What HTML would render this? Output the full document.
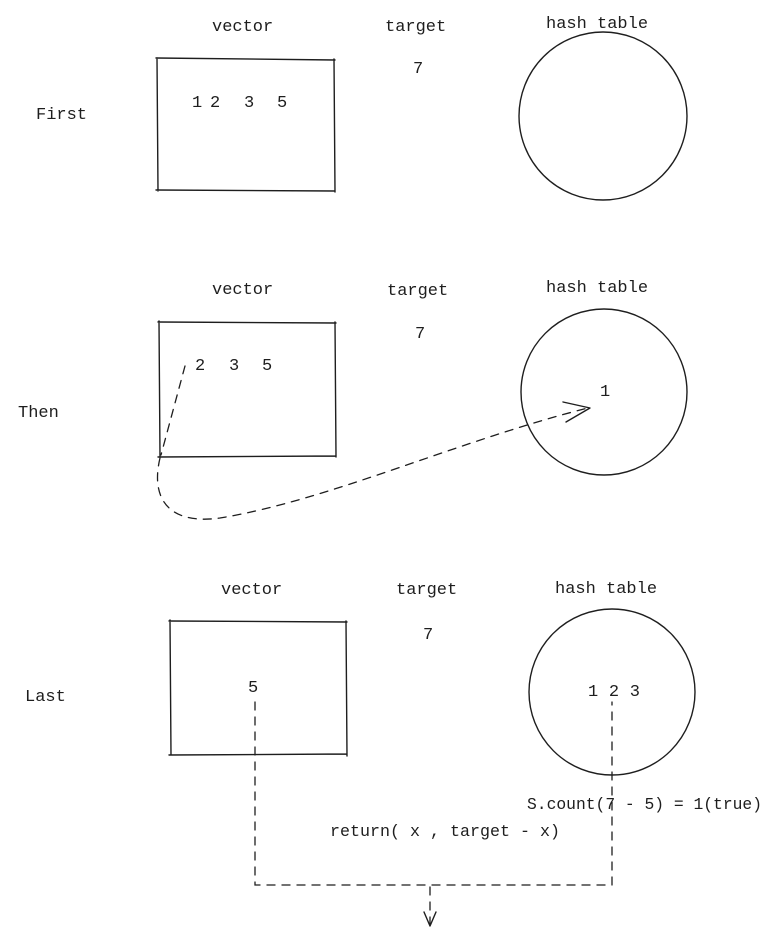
<!DOCTYPE html>
<html>
<head>
<meta charset="utf-8">
<style>
  html,body{margin:0;padding:0;background:#fff;}
  svg{display:block;}
  text{font-family:"Liberation Mono","DejaVu Sans Mono",monospace;font-size:17px;fill:#1e1e1e;}
  .s{fill:none;stroke:#1e1e1e;stroke-width:1.4;stroke-linecap:round;stroke-linejoin:round;}
  .d{fill:none;stroke:#1e1e1e;stroke-width:1.3;stroke-dasharray:8 7;stroke-linecap:round;}
</style>
</head>
<body>
<svg width="771" height="935" viewBox="0 0 771 935">
  <g>
    <text x="212" y="31">vector</text>
    <text x="385" y="31">target</text>
    <text x="546" y="28">hash table</text>
    <text x="413" y="73">7</text>
    <text x="36" y="119">First</text>
    <path class="s" d="M156 58 L335 60 M157 58 L158 191 M156 190 L335 191 M334 59 L335 192"/>
    <text x="192" y="107">1</text>
    <text x="210" y="107">2</text>
    <text x="244" y="107">3</text>
    <text x="277" y="107">5</text>
    <circle class="s" cx="603" cy="116" r="84"/>
  </g>

  <g>
    <text x="212" y="294">vector</text>
    <text x="387" y="295">target</text>
    <text x="546" y="292">hash table</text>
    <text x="415" y="338">7</text>
    <text x="18" y="417">Then</text>
    <path class="s" d="M158 322 L336 323 M159 321 L160 457 M158 457 L336 456 M335 322 L336 457"/>
    <text x="195" y="370">2</text>
    <text x="229" y="370">3</text>
    <text x="262" y="370">5</text>
    <path class="d" d="M185 366 L161 455"/>
    <path class="d" d="M160 458 C150 500 170 525 220 518 C330 500 460 440 588 408"/>
    <path class="s" d="M563 402 L590 408 L566 422"/>
    <text x="600" y="396">1</text>
    <circle class="s" cx="604" cy="392" r="83"/>
  </g>

  <g>
    <text x="221" y="594">vector</text>
    <text x="396" y="594">target</text>
    <text x="555" y="593">hash table</text>
    <text x="423" y="639">7</text>
    <text x="25" y="701">Last</text>
    <path class="s" d="M169 621 L347 622 M170 620 L171 755 M169 755 L347 754 M346 621 L347 756"/>
    <text x="248" y="692">5</text>
    <circle class="s" cx="612" cy="692" r="83"/>
    <text x="588" y="696" textLength="52">1 2 3</text>
    <path class="d" d="M255 702 L255 885 L612 885 L612 702"/>
    <path class="d" d="M430 887 L430 925"/>
    <path class="s" d="M424 912 L430 926 L436 912"/>
    <text x="527" y="809" textLength="235" lengthAdjust="spacingAndGlyphs">S.count(7 - 5) = 1(true)</text>
    <text x="330" y="836" textLength="230" lengthAdjust="spacingAndGlyphs">return( x , target - x)</text>
  </g>
</svg>
</body>
</html>
